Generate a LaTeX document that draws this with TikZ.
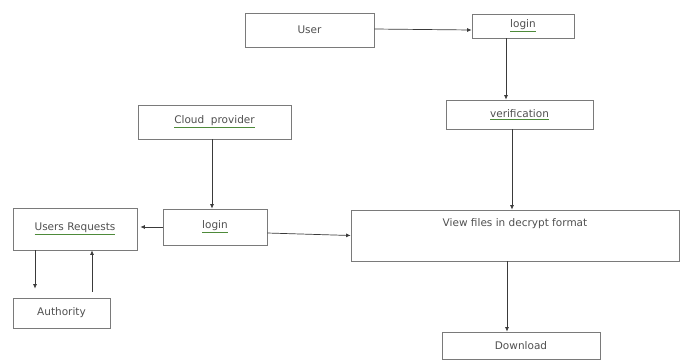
\documentclass[tikz,border=0pt]{standalone}
\usepackage{fontspec}
\setmainfont{DejaVu Sans}
\usetikzlibrary{arrows.meta}
\definecolor{boxgray}{HTML}{7A7A7A}
\definecolor{linegray}{HTML}{3A3A3A}
\definecolor{txtgray}{HTML}{505050}
\definecolor{ulgreen}{HTML}{4E8A3A}
\newcommand{\ulword}[1]{{\color{ulgreen}\underline{\color{txtgray}#1}}}
\begin{document}
\begin{tikzpicture}[x=1pt, y=-1pt,
  box/.style={draw=boxgray, line width=0.8pt, inner sep=2pt, text=txtgray,
    font=\fontsize{10.5}{12}\selectfont},
  arr/.style={draw=linegray, line width=0.7pt, -{Latex[length=4.5pt,width=4pt]}}]
\useasboundingbox[fill=white] (0,0) rectangle (680,360);
% top row
\node[box, minimum width=129pt, minimum height=34pt] (user) at (309.5,30) {User};
\node[box, minimum width=102pt, minimum height=24pt] (login) at (523,26) {\ulword{login}};
\node[box, minimum width=147pt, minimum height=29pt] (verif) at (519.5,114.5) {\ulword{verification}};
% large box, text near its top
\node[box, minimum width=328pt, minimum height=51pt, text height=12.5pt, text depth=30.5pt]
  (view) at (515,235.5) {View files in decrypt format};
\node[box, minimum width=158pt, minimum height=27pt] (download) at (521,345.5) {Download};
% provider side
\node[box, minimum width=153pt, minimum height=34pt] (cloud) at (214.5,122) {\ulword{Cloud\ \ provider}};
\node[box, minimum width=104pt, minimum height=36pt] (login2) at (215,227) {\ulword{login}};
\node[box, minimum width=124pt, minimum height=42pt] (req) at (75,229) {\ulword{Users Requests}};
\node[box, minimum width=97pt, minimum height=30pt] (auth) at (61.5,313) {Authority};
% connectors
\draw[arr] ([yshift=1pt]user.east) -- ([yshift=-4pt]login.west);
\draw[arr] ([xshift=-17pt]login.south) -- ([xshift=-13.5pt]verif.north);
\draw[arr] ([xshift=-7.5pt]verif.south) -- ([xshift=-3pt]view.north);
\draw[arr] ([xshift=-8pt]view.south) -- ([xshift=-14pt]download.north);
\draw[arr] ([xshift=-2.5pt]cloud.south) -- ([xshift=-3pt]login2.north);
\draw[arr, shorten >=3pt] (login2.west) -- (login2.west -| req.east);
\draw[arr] ([yshift=-6pt]login2.east) -- (view.west);
\draw[arr, shorten >=9pt] ([xshift=-40pt]req.south) -- ([xshift=-26.5pt]auth.north);
\draw[arr, shorten <=6pt] ([xshift=30.5pt]auth.north) -- ([xshift=17pt]req.south);
\end{tikzpicture}
\end{document}
